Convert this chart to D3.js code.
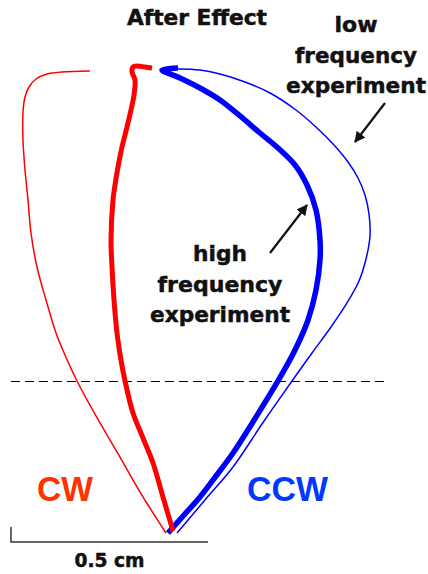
<!DOCTYPE html>
<html>
<head>
<meta charset="utf-8">
<script src="https://cdn.jsdelivr.net/npm/d3@7/dist/d3.min.js"></script>
<style>
  html, body { margin: 0; padding: 0; background: #fff; }
  svg { display: block; }
  text { font-family: "DejaVu Sans", Verdana, sans-serif; font-weight: bold; }
  text.lbl { stroke: #111; stroke-width: 0.5px; }
  text.dir { font-family: "Liberation Sans", Arial, Helvetica, sans-serif; }
</style>
</head>
<body>
<svg id="chart" width="428" height="574"></svg>
<script>
// Hand trajectories in mm, origin at the common start point (bottom), y upwards.
const cwHigh = [
  [0.076, 0.051], [-0.178, 0.914], [-0.431, 1.777], [-0.685, 2.411], [-0.939, 3.046],
  [-1.142, 3.858], [-1.244, 4.391], [-1.345, 5.076], [-1.421, 5.914], [-1.472, 6.751],
  [-1.497, 7.437], [-1.447, 8.452], [-1.396, 8.832], [-1.320, 9.289], [-1.218, 9.797],
  [-1.091, 10.305], [-0.990, 10.736], [-0.914, 11.117], [-0.888, 11.497], [-0.964, 11.701],
  [-0.939, 11.827], [-0.838, 11.853], [-0.635, 11.827], [-0.457, 11.802]
];
const cwLow = [
  [-0.102, 0.000], [-0.558, 0.711], [-0.939, 1.345], [-1.345, 2.056], [-1.878, 2.970],
  [-2.360, 3.858], [-2.665, 4.518], [-2.893, 5.076], [-3.147, 5.914], [-3.376, 6.751],
  [-3.528, 7.614], [-3.604, 8.452], [-3.680, 9.213], [-3.731, 9.975], [-3.731, 10.685],
  [-3.680, 11.066], [-3.579, 11.320], [-3.401, 11.523], [-3.122, 11.650], [-2.741, 11.701],
  [-2.030, 11.726]
];
const ccwHigh = [
  [-0.051, 0.000], [0.355, 0.457], [0.761, 0.914], [1.168, 1.447], [1.599, 2.030],
  [2.183, 2.944], [2.741, 3.858], [3.173, 4.645], [3.503, 5.406], [3.706, 6.168],
  [3.807, 6.929], [3.807, 7.437], [3.706, 8.198], [3.477, 8.832], [3.173, 9.340],
  [2.741, 9.772], [2.284, 10.152], [1.777, 10.584], [1.269, 10.990], [0.761, 11.294],
  [0.254, 11.548], [-0.203, 11.751], [0.203, 11.802]
];
const ccwLow = [
  [0.178, 0.000], [0.888, 0.838], [1.599, 1.675], [2.335, 2.766], [3.096, 3.858],
  [3.604, 4.569], [4.086, 5.228], [4.492, 5.838], [4.797, 6.396], [4.975, 6.954],
  [5.076, 7.538], [5.051, 8.096], [4.949, 8.579], [4.772, 9.010], [4.518, 9.416],
  [4.162, 9.848], [3.731, 10.279], [3.198, 10.736], [2.538, 11.168], [1.904, 11.447],
  [1.269, 11.650], [0.761, 11.751], [0.203, 11.777]
];

// Reference line height (mm) and scale bar (mm)
const refLineY = 3.858;
const refLineX = [-4.036, 5.508];
const scaleBar = { start: -4.036, length: 5, label: "0.5 cm" };

// Text labels
const titleText = "After Effect";
const lowLabel = ["low", "frequency", "experiment"];
const highLabel = ["high", "frequency", "experiment"];
const dirLabels = ["CW", "CCW"];

const svg = d3.select("#chart");
const pxPerMm = 39.4;
const x = d3.scaleLinear().domain([0, 1]).range([170, 170 + pxPerMm]);
const y = d3.scaleLinear().domain([0, 1]).range([533, 533 - pxPerMm]);

const line = d3.line()
  .x(d => x(d[0]))
  .y(d => y(d[1]))
  .curve(d3.curveCatmullRom.alpha(0.5));

// dashed reference line
const yRef = Math.round(y(refLineY)) + 0.5;
svg.append("line")
  .attr("x1", x(refLineX[0])).attr("x2", x(refLineX[1]))
  .attr("y1", yRef).attr("y2", yRef)
  .attr("stroke", "#000").attr("stroke-width", 1)
  .attr("stroke-dasharray", "9,5");

const traces = [
  { data: cwLow, color: "#ff0000", width: 1.5 },
  { data: ccwLow, color: "#0000ff", width: 1.5 },
  { data: ccwHigh, color: "#0000ff", width: 5.5 },
  { data: cwHigh, color: "#ff0000", width: 5 }
];
svg.selectAll("path.trace").data(traces).join("path")
  .attr("class", "trace")
  .attr("d", d => line(d.data))
  .attr("fill", "none")
  .attr("stroke", d => d.color)
  .attr("stroke-width", d => d.width)
  .attr("stroke-linejoin", "round")
  .attr("stroke-linecap", "butt");

// scale bar
const sb = svg.append("g").attr("stroke", "#333").attr("stroke-width", 1.5).attr("fill", "none");
sb.append("path")
  .attr("d", `M${x(scaleBar.start)},${y(0) - 6}V${y(0) + 9}H${x(scaleBar.start + scaleBar.length)}`);
svg.append("text")
  .attr("class", "lbl")
  .attr("x", (x(scaleBar.start) + x(scaleBar.start + scaleBar.length)) / 2)
  .attr("y", 567)
  .attr("text-anchor", "middle")
  .attr("font-size", 19)
  .attr("textLength", 70).attr("lengthAdjust", "spacingAndGlyphs")
  .attr("fill", "#111")
  .text(scaleBar.label);

// title
svg.append("text")
  .attr("class", "lbl")
  .attr("x", 197).attr("y", 25)
  .attr("text-anchor", "middle")
  .attr("font-size", 21)
  .attr("textLength", 140).attr("lengthAdjust", "spacingAndGlyphs")
  .attr("fill", "#111")
  .text(titleText);

// experiment labels
const lowWidths = [43, 122, 140];
lowLabel.forEach((t, i) => {
  svg.append("text")
    .attr("class", "lbl")
    .attr("x", 356).attr("y", 32 + i * 30.5)
    .attr("text-anchor", "middle")
    .attr("font-size", 22)
    .attr("textLength", lowWidths[i]).attr("lengthAdjust", "spacingAndGlyphs")
    .attr("fill", "#111")
    .text(t);
});
const highWidths = [54, 125, 140];
highLabel.forEach((t, i) => {
  svg.append("text")
    .attr("class", "lbl")
    .attr("x", 220).attr("y", 261 + i * 30.5)
    .attr("text-anchor", "middle")
    .attr("font-size", 22)
    .attr("textLength", highWidths[i]).attr("lengthAdjust", "spacingAndGlyphs")
    .attr("fill", "#111")
    .text(t);
});

// arrows
svg.append("defs").append("marker")
  .attr("id", "head")
  .attr("viewBox", "0 0 10 10")
  .attr("refX", 9).attr("refY", 5)
  .attr("markerWidth", 5).attr("markerHeight", 5)
  .attr("markerUnits", "strokeWidth")
  .attr("orient", "auto")
  .append("path").attr("d", "M0,0L10,5L0,10Z").attr("fill", "#111");

const arrows = [
  [[385, 103], [355, 142]],
  [[270, 253], [307, 205]]
];
svg.selectAll("line.arrow").data(arrows).join("line")
  .attr("class", "arrow")
  .attr("x1", d => d[0][0]).attr("y1", d => d[0][1])
  .attr("x2", d => d[1][0]).attr("y2", d => d[1][1])
  .attr("stroke", "#111").attr("stroke-width", 2.2)
  .attr("marker-end", "url(#head)");

// direction labels
svg.append("text")
  .attr("class", "dir")
  .attr("x", 37).attr("y", 501)
  .attr("font-size", 35)
  .attr("textLength", 56).attr("lengthAdjust", "spacingAndGlyphs")
  .attr("fill", "#ff3300")
  .text(dirLabels[0]);
svg.append("text")
  .attr("class", "dir")
  .attr("x", 247).attr("y", 501)
  .attr("font-size", 35)
  .attr("textLength", 81).attr("lengthAdjust", "spacingAndGlyphs")
  .attr("fill", "#0038ff")
  .text(dirLabels[1]);
</script>
</body>
</html>
